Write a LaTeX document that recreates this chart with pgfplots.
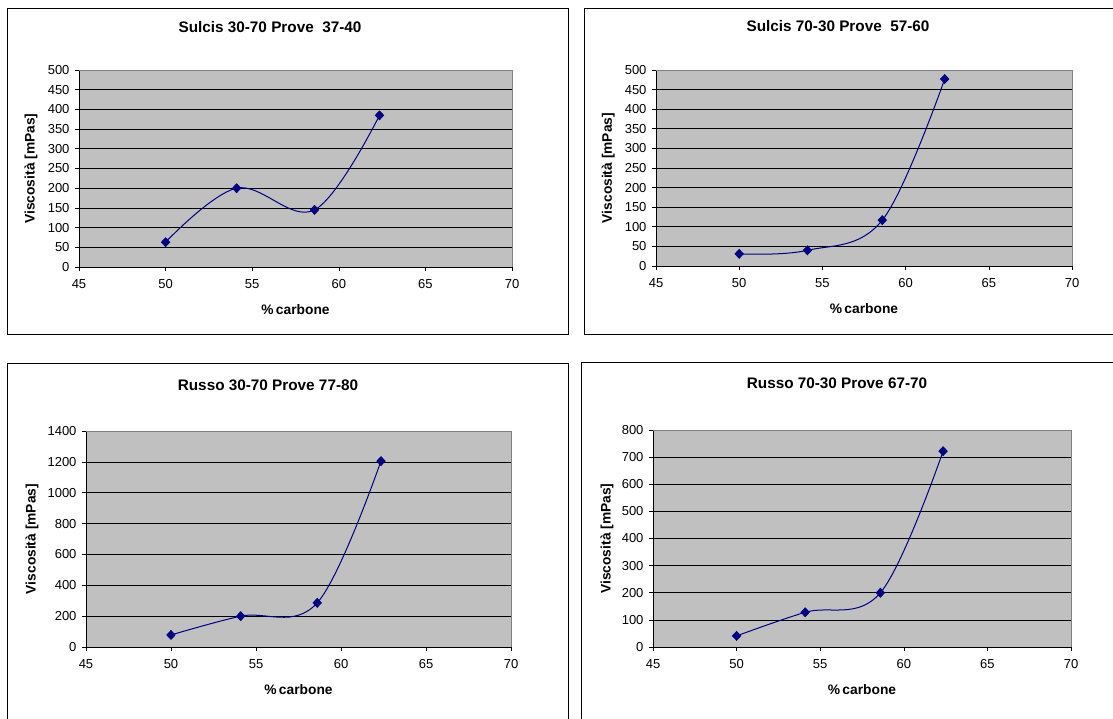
\documentclass[border=0pt]{standalone}
\usepackage{pgfplots}
\pgfplotsset{compat=1.18}
\usepackage{fontspec}
\setmainfont{Liberation Sans}
\definecolor{navy}{RGB}{0,0,128}
\definecolor{plotgray}{RGB}{192,192,192}
\definecolor{bordergray}{RGB}{128,128,128}
\pgfplotsset{
  panel/.style={
    scale only axis, anchor=south west,
    xmin=45, xmax=70, xtick={45,50,...,70},
    axis background/.style={fill=plotgray},
    ymajorgrids, grid style={black, line width=0.6pt},
    axis x line*=bottom, axis y line*=left,
    axis line style={black, line width=0.7pt, -},
    tick align=outside, major tick length=4pt,
    tick style={black, line width=0.6pt},
    tick label style={font=\fontsize{13}{15}\selectfont},
    x tick label style={yshift=-5pt},
    y tick label style={xshift=-2pt},
    /pgf/number format/assume math mode=true,
    /pgf/number format/1000 sep={},
    scaled ticks=false,
    xlabel={\%\,carbone}, ylabel={Viscosità [mPas]},
    label style={font=\bfseries\fontsize{13.8}{16}\selectfont},
    xlabel style={at={(axis description cs:0.5,0)}, anchor=center, yshift=-43pt},
    clip=false,
  },
  ser/.style={navy, line width=1pt, smooth, tension=0.6, mark=diamond*, mark size=4.3pt, mark options={solid, fill=navy, xscale=1.25}},
}
\newcommand{\plotborder}{\draw[bordergray, line width=0.7pt] (rel axis cs:0,1) -- (rel axis cs:1,1) -- (rel axis cs:1,0);}
\begin{document}
\begin{tikzpicture}[x=1pt,y=1pt]
\path[use as bounding box] (0,0) rectangle (1113,718);
% frames
\draw[black, line width=0.8pt] (7,384) rectangle (568,710);
\draw[black, line width=0.8pt] (1116,710) -- (584,710) -- (584,384) -- (1116,384);
\draw[black, line width=0.8pt] (7,-3) -- (7,355) -- (568,355) -- (568,-3);
\draw[black, line width=0.8pt] (581,-3) -- (581,356) -- (1116,356);
% titles
\tikzset{ttl/.style={font=\bfseries\fontsize{15.3}{18}\selectfont}}
\node[ttl] at (270,691) {Sulcis 30-70 Prove~ 37-40};
\node[ttl] at (838,692) {Sulcis 70-30 Prove~ 57-60};
\node[ttl] at (268,333) {Russo 30-70 Prove 77-80};
\node[ttl] at (837,335) {Russo 70-30 Prove 67-70};

\begin{axis}[panel, at={(79pt,451pt)}, width=433pt, height=197pt,
  ymin=0, ymax=500, ytick={0,50,...,500},
  ylabel style={at={(axis description cs:-0.111,0.5)}, anchor=center}]
\addplot[ser] coordinates {(50,63) (54.1,200) (58.6,145) (62.35,385)};
\plotborder
\end{axis}

\begin{axis}[panel, at={(656pt,452pt)}, width=416pt, height=196pt,
  ymin=0, ymax=500, ytick={0,50,...,500},
  ylabel style={at={(axis description cs:-0.115,0.5)}, anchor=center}]
\addplot[ser] coordinates {(50,31) (54.1,40) (58.6,117) (62.35,477)};
\plotborder
\end{axis}

\begin{axis}[panel, at={(86pt,71pt)}, width=425pt, height=216pt,
  ymin=0, ymax=1400, ytick={0,200,...,1400},
  ylabel style={at={(axis description cs:-0.127,0.5)}, anchor=center}]
\addplot[ser] coordinates {(50,78) (54.1,200) (58.6,286) (62.35,1205)};
\plotborder
\end{axis}

\begin{axis}[panel, at={(653pt,71pt)}, width=418pt, height=217pt,
  ymin=0, ymax=800, ytick={0,100,...,800},
  ylabel style={at={(axis description cs:-0.110,0.5)}, anchor=center}]
\addplot[ser] coordinates {(50,41) (54.1,128) (58.6,200) (62.35,722)};
\plotborder
\end{axis}
\end{tikzpicture}
\end{document}
